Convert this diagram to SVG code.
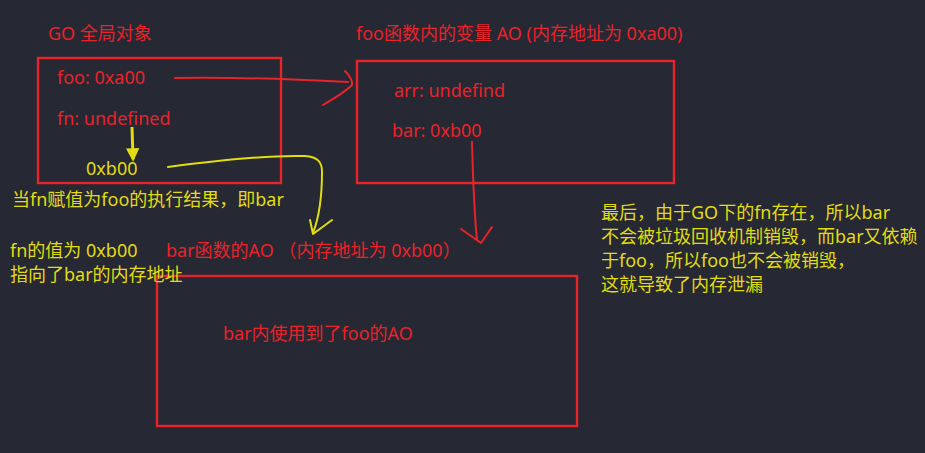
<svg xmlns="http://www.w3.org/2000/svg" width="925" height="453" viewBox="0 0 925 453">
<defs>
<style>
text{font-family:"Noto Sans","Noto Sans CJK SC",sans-serif;font-size:18px}
.r{fill:#e8232a}
.y{fill:#e2dc12}
.box{fill:none;stroke:#e8232a;stroke-width:2.4}
.rl{fill:none;stroke:#e8232a;stroke-width:2;stroke-linecap:round;stroke-linejoin:round}
.yl{fill:none;stroke:#e2dc12;stroke-width:2;stroke-linecap:round;stroke-linejoin:round}
</style>
<marker id="ya" viewBox="0 0 10 10" refX="8" refY="5" markerWidth="4.5" markerHeight="4.5" orient="auto" markerUnits="strokeWidth"><path d="M0,0L10,5L0,10z" fill="#e2dc12"/></marker>
</defs>
<rect width="925" height="453" fill="#262833"/>
<g id="go">
<text x="48" y="40" class="r">GO 全局对象</text>
<rect x="38" y="58" width="243" height="125" class="box"/>
<text x="57" y="84" class="r">foo: 0xa00</text>
<text x="57" y="125" class="r">fn: undefined</text>
<text x="86" y="175" class="y">0xb00</text>
</g>
<g id="fooAO">
<text x="356" y="40" class="r">foo函数内的变量 AO (内存地址为 0xa00)</text>
<rect x="357" y="61" width="317" height="122" class="box"/>
<text x="394" y="97" class="r">arr: undefind</text>
<text x="392" y="137" class="r">bar: 0xb00</text>
</g>
<g id="barAO">
<text x="166" y="257" class="r">bar函数的AO （内存地址为 0xb00）</text>
<rect x="157" y="276" width="420" height="150" class="box"/>
<text x="223" y="340" class="r">bar内使用到了foo的AO</text>
</g>
<g id="notes">
<text x="12" y="206" class="y">当fn赋值为foo的执行结果，即bar</text>
<text x="10" y="257" class="y">fn的值为 0xb00</text>
<text x="10" y="281" class="y">指向了bar的内存地址</text>
<text x="601" y="219" class="y">最后，由于GO下的fn存在，所以bar</text>
<text x="601" y="243" class="y">不会被垃圾回收机制销毁，而bar又依赖</text>
<text x="601" y="267" class="y">于foo，所以foo也不会被销毁，</text>
<text x="601" y="291" class="y">这就导致了内存泄漏</text>
</g>
<g id="connectors">
<path class="rl" d="M175,78 C230,77 290,79 348,82"/>
<path class="rl" d="M345,71 C350,76 353,80 352,85 C345,92 335,98 323,105"/>
<path class="rl" d="M472,142 C473,180 474,210 477,240"/>
<path class="rl" d="M461,229 L481,243 L492,227"/>
<path d="M132,127 L133,159" fill="none" stroke="#e2dc12" stroke-width="3" marker-end="url(#ya)"/>
<path class="yl" d="M168,167 C220,160 270,155 305,156 C318,157 322,162 322,172 C322,195 320,215 313,233"/>
<path class="yl" d="M310,220 L313,234 L332,220"/>
</g>
</svg>
